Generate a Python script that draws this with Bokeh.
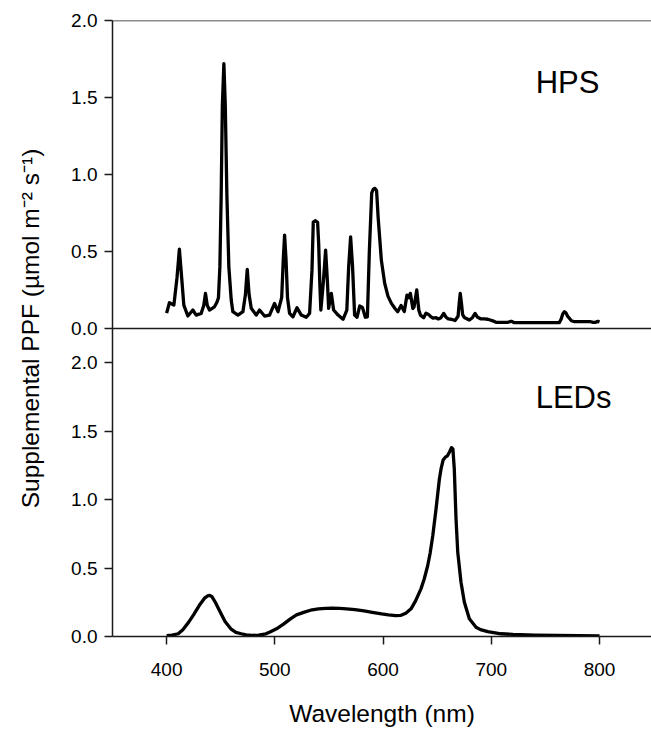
from bokeh.plotting import figure
from bokeh.models import Range1d, FixedTicker, Span, Label
from bokeh.embed import file_html
from bokeh.resources import INLINE

# ---------------- data ----------------
hps_wl = [400.0, 402.6, 406.7, 409.6, 411.8, 413.9, 415.9, 419.6, 424.2, 427.3,
          431.9, 434.3, 435.9, 437.6, 439.6, 444.2, 446.5, 447.9, 449.2, 450.4,
          451.5, 452.9, 454.2, 455.7, 457.5, 459.7, 461.2, 465.9, 470.5, 472.8,
          474.5, 476.2, 478.2, 482.8, 485.8, 490.5, 495.1, 499.7, 502.9, 506.3,
          507.8, 509.0, 510.3, 511.7, 513.6, 516.7, 520.5, 524.4, 529.0, 532.1,
          534.3, 535.5, 537.6, 539.5, 540.5, 541.5, 542.5, 544.8, 546.9, 548.6,
          549.7, 552.2, 554.3, 558.4, 563.0, 566.5, 568.2, 570.0, 571.8, 573.7,
          575.9, 578.4, 580.9, 583.6, 585.5, 587.3, 589.5, 591.0, 592.5, 594.0,
          595.4, 598.4, 601.5, 604.5, 607.7, 611.0, 613.5, 616.6, 619.6, 622.1,
          623.7, 625.2, 627.5, 628.6, 631.1, 633.0, 634.5, 637.5, 639.7, 642.2,
          644.3, 646.0, 649.0, 651.0, 653.5, 656.0, 658.0, 660.3, 663.0, 666.5,
          669.3, 670.4, 671.3, 672.3, 673.5, 675.0, 679.7, 682.5, 685.0, 687.0,
          690.5, 693.5, 696.7, 699.0, 701.3, 704.3, 708.0, 712.0, 715.5, 717.6,
          719.0, 721.3, 740.0, 762.8, 764.5, 766.0, 767.5, 769.0, 770.5, 772.1,
          774.0, 776.7, 785.0, 792.0, 794.0, 796.0, 798.5, 800.0]
hps_ppf = [0.100, 0.167, 0.152, 0.330, 0.515, 0.330, 0.152, 0.081, 0.120, 0.087,
           0.098, 0.150, 0.228, 0.150, 0.120, 0.141, 0.170, 0.200, 0.400, 0.860,
           1.450, 1.720, 1.450, 0.860, 0.400, 0.185, 0.109, 0.087, 0.109, 0.220,
           0.384, 0.220, 0.131, 0.087, 0.120, 0.081, 0.087, 0.163, 0.109, 0.200,
           0.450, 0.606, 0.450, 0.200, 0.098, 0.076, 0.135, 0.087, 0.073, 0.098,
           0.379, 0.690, 0.700, 0.690, 0.550, 0.300, 0.120, 0.300, 0.509, 0.300,
           0.131, 0.228, 0.120, 0.087, 0.060, 0.120, 0.400, 0.595, 0.400, 0.087,
           0.073, 0.146, 0.137, 0.073, 0.076, 0.500, 0.880, 0.905, 0.910, 0.895,
           0.725, 0.444, 0.293, 0.210, 0.163, 0.130, 0.109, 0.150, 0.110, 0.217,
           0.200, 0.228, 0.130, 0.140, 0.250, 0.120, 0.087, 0.070, 0.100, 0.090,
           0.075, 0.068, 0.070, 0.062, 0.070, 0.098, 0.075, 0.062, 0.060, 0.052,
           0.080, 0.170, 0.228, 0.170, 0.090, 0.072, 0.055, 0.070, 0.098, 0.075,
           0.062, 0.062, 0.060, 0.055, 0.050, 0.040, 0.040, 0.040, 0.040, 0.046,
           0.046, 0.038, 0.038, 0.038, 0.060, 0.095, 0.109, 0.100, 0.080, 0.066,
           0.050, 0.044, 0.044, 0.044, 0.040, 0.040, 0.046, 0.042]

led_wl = [400, 405, 410.7, 415, 420.4, 425, 430.1, 435, 438, 439.8,
          442, 445, 449.6, 454, 459.3, 464, 469, 473.5, 478.7, 485,
          491.7, 496, 501.5, 508, 514.4, 520, 527.3, 533, 540.3, 547,
          553.3, 560, 566.2, 574, 582.4, 590, 598.6, 605, 611.6, 616.6,
          621, 625.8, 630, 635, 638, 641.2, 643.5, 645.9, 648.9, 652,
          653.5, 655.5, 657.5, 659.5, 661.5, 663.2, 664.5, 665.8, 667.4, 669,
          672, 675.1, 679.7, 685.9, 690, 696.7, 709, 720, 740, 760,
          780, 800]
led_ppf = [0.007, 0.010, 0.020, 0.050, 0.105, 0.160, 0.226, 0.280, 0.297, 0.300,
           0.290, 0.250, 0.178, 0.110, 0.056, 0.030, 0.020, 0.012, 0.008, 0.010,
           0.020, 0.035, 0.056, 0.090, 0.129, 0.158, 0.178, 0.192, 0.202, 0.206,
           0.207, 0.205, 0.202, 0.196, 0.187, 0.177, 0.165, 0.158, 0.153, 0.155,
           0.170, 0.202, 0.260, 0.348, 0.420, 0.517, 0.610, 0.736, 0.930, 1.149,
           1.222, 1.290, 1.310, 1.320, 1.350, 1.380, 1.370, 1.222, 0.858, 0.615,
           0.396, 0.250, 0.129, 0.068, 0.050, 0.036, 0.020, 0.015, 0.010, 0.008,
           0.006, 0.005]

x_ticks = [400, 500, 600, 700, 800]
hps_y_ticks = [0.0, 0.5, 1.0, 1.5, 2.0]
led_y_ticks = [0.0, 0.5, 1.0, 1.5, 2.0]
hps_y_max = 2.0
led_y_max = 2.25

FONT = "Liberation Sans"
AX = "#1a1a1a"

# One frame split in two equal halves: HPS on top (0..2.0), LEDs below (0..2.25)
p = figure(width=651, height=729,
           x_range=Range1d(350, 848),
           y_range=Range1d(-hps_y_max, hps_y_max),
           output_backend="svg", toolbar_location=None,
           min_border_left=112, min_border_right=0,
           min_border_top=20, min_border_bottom=91)
p.extra_y_ranges = {"led": Range1d(0, 2 * led_y_max)}
p.outline_line_color = None
p.xgrid.visible = False
p.ygrid.visible = False


def led_to_main(v):
    r_led = p.extra_y_ranges["led"]
    r_main = p.y_range
    frac = (v - r_led.start) / (r_led.end - r_led.start)
    return r_main.start + frac * (r_main.end - r_main.start)


tick_pos = []
overrides = {}
for v in hps_y_ticks:
    tick_pos.append(float(v))
    overrides[float(v)] = f"{v:.1f}"
for v in led_y_ticks:
    pos = float(led_to_main(v))
    tick_pos.append(pos)
    overrides[pos] = f"{v:.1f}"

# y axis
yax = p.yaxis[0]
yax.ticker = FixedTicker(ticks=tick_pos, minor_ticks=[])
yax.major_label_overrides = overrides
yax.axis_label = "Supplemental PPF (µmol m⁻² s⁻¹)"

# x axis
xax = p.xaxis[0]
xax.ticker = FixedTicker(ticks=x_ticks, minor_ticks=[])
xax.axis_label = "Wavelength (nm)"

for ax in (xax, yax):
    ax.axis_line_color = AX
    ax.axis_line_width = 1.5
    ax.major_tick_line_color = AX
    ax.major_tick_line_width = 1.5
    ax.major_tick_out = 8
    ax.major_tick_in = 0
    ax.minor_tick_line_color = None
    ax.major_label_text_font = FONT
    ax.major_label_text_font_size = "19px"
    ax.major_label_text_color = "black"
    ax.axis_label_text_font = FONT
    ax.axis_label_text_font_size = "24.5px"
    ax.axis_label_text_font_style = "normal"
    ax.axis_label_text_color = "black"

xax.major_label_standoff = 18
xax.axis_label_standoff = 21
yax.major_label_standoff = 7
yax.axis_label_standoff = 24

# frame top line and the panel divider (HPS zero line)
p.add_layout(Span(location=hps_y_max, dimension="width", line_color=AX, line_width=1.5))
p.add_layout(Span(location=0, dimension="width", line_color=AX, line_width=1.5))

# spectra
p.line(hps_wl, hps_ppf, line_color="black", line_width=3.3, line_join="round")
p.line(led_wl, led_ppf, y_range_name="led", line_color="black", line_width=3.3,
       line_join="round")

# panel labels
p.add_layout(Label(x=741, y=1.60, text="HPS", text_font=FONT,
                   text_font_size="31px", text_color="black",
                   text_baseline="alphabetic"))
p.add_layout(Label(x=741, y=1.747, y_range_name="led", text="LEDs", text_font=FONT,
                   text_font_size="31px", text_color="black",
                   text_baseline="alphabetic"))

open("out.html", "w").write(file_html(p, INLINE))
